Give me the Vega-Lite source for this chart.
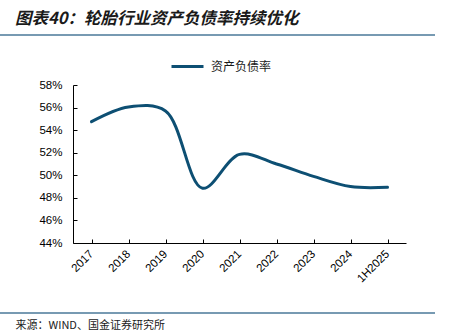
{
  "$schema": "https://vega.github.io/schema/vega-lite/v6.json",
  "width": 435,
  "height": 278,
  "padding": {"top": 10, "left": 0, "right": 17, "bottom": 0},
  "autosize": {"type": "pad"},
  "background": "white",
  "title": {
    "text": "图表40：轮胎行业资产负债率持续优化",
    "anchor": "start",
    "dx": 15,
    "offset": 8,
    "font": "Noto Sans CJK SC",
    "fontSize": 16.5,
    "fontStyle": "italic",
    "fontWeight": "bold",
    "color": "#1a1a1a"
  },
  "config": {
    "view": {"stroke": "#4b7a99", "strokeWidth": 1.5, "strokeDash": [435, 278]},
    "font": "Noto Sans CJK SC"
  },
  "data": {
    "values": [
      {"period": "2017", "ratio": 0.5475, "series": "资产负债率"},
      {"period": "2018", "ratio": 0.5605, "series": "资产负债率"},
      {"period": "2019", "ratio": 0.5570, "series": "资产负债率"},
      {"period": "2020", "ratio": 0.4885, "series": "资产负债率"},
      {"period": "2021", "ratio": 0.5185, "series": "资产负债率"},
      {"period": "2022", "ratio": 0.5100, "series": "资产负债率"},
      {"period": "2023", "ratio": 0.4990, "series": "资产负债率"},
      {"period": "2024", "ratio": 0.4900, "series": "资产负债率"},
      {"period": "1H2025", "ratio": 0.4894, "series": "资产负债率"}
    ]
  },
  "mark": {"type": "line", "interpolate": "catmull-rom", "strokeWidth": 3, "strokeCap": "round"},
  "encoding": {
    "x": {
      "field": "period",
      "type": "ordinal",
      "sort": null,
      "scale": {"range": [73, 406], "paddingInner": 0, "paddingOuter": 0},
      "axis": {
        "offset": -70,
        "domainColor": "#000000",
        "domainWidth": 1,
        "tickColor": "#000000",
        "tickSize": -4,
        "bandPosition": 0,
        "labelAngle": -45,
        "labelAlign": "right",
        "labelBaseline": "middle",
        "labelPadding": 13,
        "labelFontSize": 11.5,
        "labelColor": "#000000",
        "labelFont": "Liberation Sans",
        "title": "来源：WIND、国金证券研究所",
        "titleFontSize": 11,
        "titleFontWeight": "normal",
        "titleColor": "#1a1a1a",
        "titleAnchor": "start",
        "titleAlign": "left",
        "titleBaseline": "middle",
        "titleX": 15,
        "titleY": 82
      }
    },
    "y": {
      "field": "ratio",
      "type": "quantitative",
      "scale": {"domain": [0.44, 0.58], "range": [208, 50], "zero": false},
      "axis": {
        "offset": -73,
        "values": [0.44, 0.46, 0.48, 0.50, 0.52, 0.54, 0.56, 0.58],
        "format": ".0%",
        "grid": false,
        "domainColor": "#000000",
        "tickColor": "#000000",
        "tickSize": -4,
        "labelPadding": 15,
        "labelFontSize": 11.5,
        "labelColor": "#000000",
        "labelFont": "Liberation Sans",
        "title": null
      }
    },
    "color": {
      "field": "series",
      "type": "nominal",
      "scale": {"range": ["#0d4f73"]},
      "legend": {
        "orient": "none",
        "legendX": 170,
        "legendY": 14,
        "title": null,
        "symbolType": "stroke",
        "symbolSize": 1024,
        "symbolStrokeWidth": 3,
        "labelFontSize": 12,
        "labelColor": "#1a1a1a",
        "labelFont": "Noto Sans CJK SC",
        "labelOffset": 6
      }
    }
  }
}
